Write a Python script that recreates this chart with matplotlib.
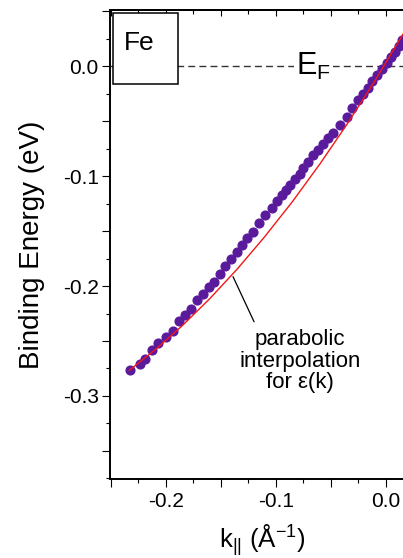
"""Fe band dispersion near E_F with parabolic interpolation."""

import matplotlib
matplotlib.use('Agg')
import matplotlib.pyplot as plt
from matplotlib.patches import Rectangle
from matplotlib.ticker import MultipleLocator, FuncFormatter

plt.rcParams['font.family'] = ['Liberation Sans', 'DejaVu Sans']
plt.rcParams['mathtext.default'] = 'regular'
plt.rcParams['axes.unicode_minus'] = False

k_data = [-0.2327, -0.2236, -0.2191, -0.2127, -0.2073, -0.2000, -0.1936, -0.1882,
          -0.1827, -0.1773, -0.1718, -0.1664, -0.1609, -0.1564, -0.1509, -0.1464,
          -0.1409, -0.1355, -0.1309, -0.1264, -0.1209, -0.1155, -0.1100, -0.1036,
          -0.0991, -0.0945, -0.0909, -0.0873, -0.0827, -0.0782, -0.0755, -0.0709,
          -0.0664, -0.0618, -0.0573, -0.0527, -0.0482, -0.0418, -0.0355, -0.0309,
          -0.0255, -0.0209, -0.0164, -0.0127, -0.0082, -0.0036, 0.0009, 0.0045,
          0.0082, 0.0118, 0.0145]
E_data = [-0.2764, -0.2709, -0.2664, -0.2582, -0.2518, -0.2464, -0.2409, -0.2318,
          -0.2264, -0.2209, -0.2127, -0.2073, -0.2009, -0.1964, -0.1891, -0.1818,
          -0.1755, -0.1691, -0.1627, -0.1564, -0.1509, -0.1427, -0.1355, -0.1291,
          -0.1228, -0.1170, -0.1125, -0.1085, -0.1030, -0.0980, -0.0925, -0.0870,
          -0.0812, -0.0764, -0.0709, -0.0655, -0.0609, -0.0536, -0.0464, -0.0382,
          -0.0309, -0.0255, -0.0200, -0.0136, -0.0082, -0.0027, 0.0027, 0.0082,
          0.0127, 0.0182, 0.0236]

# parabolic interpolation (red line)
k_fit = [-0.233, -0.21, -0.185, -0.16, -0.135, -0.11, -0.085, -0.06, -0.035, -0.01, 0.0155]
E_fit = [-0.2767, -0.2584, -0.2362, -0.2116, -0.1846, -0.1551, -0.1234, -0.0891,
         -0.0524, -0.0133, 0.0291]

W, H = 403, 558
fig = plt.figure(figsize=(W / 100, H / 100), dpi=100)
# axes runs past the right edge, as in the cropped original
x0, x1, y0, y1 = 110.5, 413.5, 479, 10
ax = fig.add_axes([x0 / W, 1 - y0 / H, (x1 - x0) / W, (y0 - y1) / H])

ax.plot(k_data, E_data, 'o', color='#5a1a9c', ms=6.3, mec='#5a1a9c', zorder=3)
ax.plot(k_fit, E_fit, '-', color='#f01818', lw=1.0, zorder=4)
ax.axhline(0, color='#333333', lw=1.0, ls=(0, (5, 3)), zorder=2)

ax.set_xlim(-0.25, 0.025)
ax.set_ylim(-0.3755, 0.051)

fmt = FuncFormatter(lambda v, p: f'{v:.1f}' if abs(round(v / 0.1) * 0.1 - v) < 1e-6 else '')
for a in (ax.xaxis, ax.yaxis):
    a.set_major_locator(MultipleLocator(0.05))
    a.set_minor_locator(MultipleLocator(0.025))
    a.set_major_formatter(fmt)
ax.tick_params(which='both', direction='out', width=0.8, labelsize=15, color='black')
ax.tick_params(which='major', length=5.5)
ax.tick_params(which='minor', length=3)
ax.tick_params(axis='x', pad=4)
ax.tick_params(axis='y', pad=3)
for s in ('left', 'bottom', 'top'):
    ax.spines[s].set_linewidth(1.4)
ax.spines['right'].set_visible(False)

top = ax.secondary_xaxis('top')
top.xaxis.set_major_locator(MultipleLocator(0.05))
top.xaxis.set_minor_locator(MultipleLocator(0.025))
top.tick_params(which='both', direction='in', width=0.8, labeltop=False)
top.tick_params(which='major', length=4.5)
top.tick_params(which='minor', length=3)
top.spines['top'].set_linewidth(1.4)

ax.set_xlabel('k$_{||}$ (Å$^{-1}$)', fontsize=18.5)
ax.xaxis.set_label_coords(0.5, -0.092)
ax.set_ylabel('Binding Energy (eV)', fontsize=20)
ax.yaxis.set_label_coords(-0.215, 0.50)

# Fe label box, drawn above the top ticks
box = Rectangle((0.0073, 0.842), 0.2165, 0.151, transform=ax.transAxes,
                facecolor='white', edgecolor='black', lw=1.1, zorder=5)
fig.add_artist(box)
fig.text(0.0446, 0.9147, 'Fe', transform=ax.transAxes, fontsize=19,
         va='baseline', ha='left', zorder=6)

ax.text(-0.0812, -0.0082, 'E$_F$', fontsize=22, va='baseline', ha='left', zorder=5,
        bbox=dict(facecolor='white', edgecolor='none', pad=1.5))

ax.text(-0.0782, -0.2682, 'parabolic\ninterpolation\nfor ε(k)', fontsize=16,
        ha='center', va='center', linespacing=1.05, zorder=5)
ax.annotate('', xy=(-0.1388, -0.1915), xytext=(-0.1197, -0.2325),
            arrowprops=dict(arrowstyle='-', color='black', lw=0.9, shrinkA=0, shrinkB=0))

fig.savefig('out.png', dpi=100)
